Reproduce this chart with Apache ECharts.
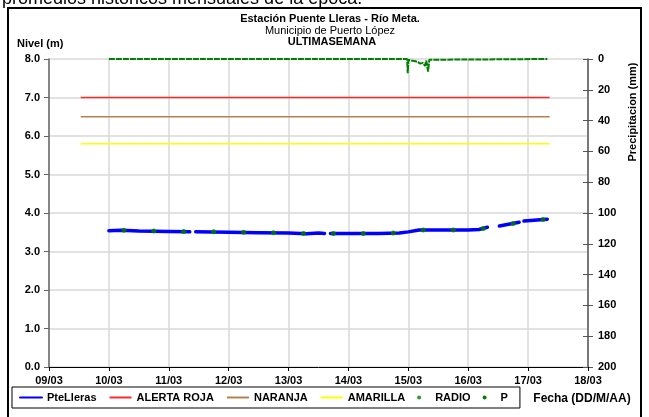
<!DOCTYPE html>
<html><head><meta charset="utf-8">
<script src="https://cdn.jsdelivr.net/npm/echarts@6/dist/echarts.min.js"></script>
<style>html,body{margin:0;padding:0;background:#fff}#c{width:649px;height:417px}</style>
</head><body><div id="c"></div>
<script>
// x values are day-of-month (March), fractional part = time of day
const dayLabels = ['09/03','10/03','11/03','12/03','13/03','14/03','15/03','16/03','17/03','18/03'];
const levelTicks = ['0.0','1.0','2.0','3.0','4.0','5.0','6.0','7.0','8.0'];
// Nivel PteLleras (m); '-' marks gaps in record
const nivel = [[10.0,3.54],[10.2,3.55],[10.5,3.53],[11.0,3.52],[11.35,3.51],[11.4,'-'],[11.45,3.51],[12.0,3.50],[12.5,3.49],[13.0,3.48],[13.3,3.46],[13.5,3.48],[13.6,3.47],[13.65,'-'],[13.7,3.47],[14.0,3.47],[14.5,3.47],[14.85,3.48],[15.0,3.51],[15.18,3.56],[15.5,3.56],[16.0,3.56],[16.18,3.57],[16.32,3.63],[16.42,'-'],[16.52,3.66],[16.85,3.76],[16.89,'-'],[16.93,3.79],[17.32,3.84]];
// Lecturas RADIO (m)
const radio = [[10.25,3.55],[10.75,3.53],[11.25,3.52],[11.75,3.51],[12.25,3.50],[12.75,3.49],[13.25,3.47],[13.75,3.47],[14.25,3.47],[14.75,3.48],[15.25,3.56],[15.75,3.56],[16.25,3.60],[16.75,3.73],[17.25,3.83]];
// Precipitación P (mm)
const precip = [[10.0,0],[14.98,0],[14.99,9.3],[15.0,0.5],[15.05,1],[15.08,2],[15.12,1.5],[15.16,2],[15.2,3],[15.24,2.5],[15.28,4.5],[15.3,1],[15.33,8.2],[15.35,0.5],[15.38,0],[17.32,0]];
// Umbrales de alerta (m)
const alertStart = 9.53, alertEnd = 17.36;
const rojaLevel = 7.0, naranjaLevel = 6.5, amarillaLevel = 5.8;

const FF = '"Liberation Sans", Arial, sans-serif';
const hideSym = {opacity: 0};
const chart = echarts.init(document.getElementById('c'));
chart.setOption({
  animation: false,
  textStyle: {fontFamily: FF},
  grid: {left: 49, right: 61, top: 59, bottom: 50},
  xAxis: {
    type: 'value', min: 9, max: 18, interval: 1,
    axisLine: {lineStyle: {color: '#000', width: 1}},
    axisTick: {inside: false, length: 4, lineStyle: {color: '#000'}},
    axisLabel: {formatter: v => dayLabels[Math.round(v - 9)], color: '#000', fontWeight: 'bold', fontSize: 11, margin: 8, fontFamily: FF},
    splitLine: {show: true, lineStyle: {color: '#d9d9d9', width: 1.5}}
  },
  yAxis: [{
    type: 'value', min: 0, max: 8, interval: 1,
    axisLine: {show: true, lineStyle: {color: '#666', width: 1.5}},
    axisTick: {show: true, inside: false, length: 5, lineStyle: {color: '#666'}},
    axisLabel: {formatter: v => levelTicks[Math.round(v)], color: '#000', fontWeight: 'bold', fontSize: 11, margin: 9, fontFamily: FF},
    splitLine: {show: true, lineStyle: {color: '#d9d9d9', width: 1.5}}
  }, {
    type: 'value', min: 0, max: 200, interval: 20, inverse: true, position: 'right',
    axisLine: {show: true, lineStyle: {color: '#555', width: 1.5}},
    axisTick: {show: true, inside: false, length: 5, lineStyle: {color: '#555'}},
    axisLabel: {color: '#000', fontWeight: 'bold', fontSize: 11, margin: 10, fontFamily: FF},
    splitLine: {show: false}
  }, {
    type: 'value', min: 0, max: 200, interval: 20, inverse: true, position: 'right',
    axisLine: {show: false},
    axisTick: {show: true, inside: true, length: 5, lineStyle: {color: '#555'}},
    axisLabel: {show: false},
    splitLine: {show: false}
  }],
  legend: {
    left: 12, top: 387, orient: 'horizontal',
    borderColor: '#000', borderWidth: 1, padding: [5, 12, 5, 7],
    itemGap: 12, itemWidth: 22, itemHeight: 4,
    textStyle: {color: '#000', fontWeight: 'bold', fontSize: 11, fontFamily: FF},
    data: [
      {name: 'PteLleras', itemStyle: hideSym},
      {name: 'ALERTA ROJA', itemStyle: hideSym},
      {name: 'NARANJA', itemStyle: hideSym},
      {name: 'AMARILLA', itemStyle: hideSym},
      {name: 'RADIO', icon: 'circle'},
      {name: 'P', icon: 'circle'}
    ]
  },
  graphic: [
    {type: 'rect', shape: {x: 8, y: 8, width: 633, height: 430}, style: {fill: null, stroke: '#000', lineWidth: 2}, silent: true},
    {type: 'text', x: 2, y: 8, style: {text: 'promedios históricos mensuales de la época.', fontSize: 18, fontFamily: FF, fill: '#000', textVerticalAlign: 'bottom'}},
    {type: 'text', x: 330, y: 19, style: {text: 'Estación Puente Lleras - Río Meta.', fontSize: 11, fontWeight: 'bold', fontFamily: FF, fill: '#000', textAlign: 'center', textVerticalAlign: 'middle'}},
    {type: 'text', x: 330, y: 31, style: {text: 'Municipio de Puerto López', fontSize: 11, fontFamily: FF, fill: '#000', textAlign: 'center', textVerticalAlign: 'middle'}},
    {type: 'text', x: 332, y: 42, style: {text: 'ULTIMASEMANA', fontSize: 11, fontWeight: 'bold', fontFamily: FF, fill: '#000', textAlign: 'center', textVerticalAlign: 'middle'}},
    {type: 'text', x: 17, y: 44, style: {text: 'Nivel (m)', fontSize: 11, fontWeight: 'bold', fontFamily: FF, fill: '#000', textVerticalAlign: 'middle'}},
    {type: 'text', x: 582, y: 399, style: {text: 'Fecha (DD/M/AA)', fontSize: 12, fontWeight: 'bold', fontFamily: FF, fill: '#000', textAlign: 'center', textVerticalAlign: 'middle'}},
    {type: 'text', x: 633, y: 112, rotation: Math.PI / 2, style: {text: 'Precipitacion (mm)', fontSize: 11, fontWeight: 'bold', fontFamily: FF, fill: '#000', textAlign: 'center', textVerticalAlign: 'middle'}}
  ],
  series: [
    {name: 'ALERTA ROJA', type: 'line', symbol: 'none', data: [[alertStart, rojaLevel], [alertEnd, rojaLevel]], lineStyle: {color: '#ff2a2a', width: 1.5}, itemStyle: {color: '#ff2a2a'}, z: 2},
    {name: 'NARANJA', type: 'line', symbol: 'none', data: [[alertStart, naranjaLevel], [alertEnd, naranjaLevel]], lineStyle: {color: '#b8804e', width: 1.5}, itemStyle: {color: '#b8804e'}, z: 2},
    {name: 'AMARILLA', type: 'line', symbol: 'none', data: [[alertStart, amarillaLevel], [alertEnd, amarillaLevel]], lineStyle: {color: '#ffff00', width: 1.5}, itemStyle: {color: '#ffff00'}, z: 2},
    {name: 'PteLleras', type: 'line', symbol: 'none', data: nivel, connectNulls: false, lineStyle: {color: '#0000ff', width: 3.5, cap: 'round', join: 'round'}, itemStyle: {color: '#0000ff'}, z: 3},
    {name: 'RADIO', type: 'scatter', symbol: 'circle', symbolSize: 5, data: radio, itemStyle: {color: '#008000'}, z: 4},
    {name: 'P', type: 'line', yAxisIndex: 1, symbol: 'none', clip: false, data: precip, lineStyle: {color: '#008000', width: 2, type: [6, 1]}, itemStyle: {color: '#008000'}, z: 4}
  ]
});
</script>
</body></html>
